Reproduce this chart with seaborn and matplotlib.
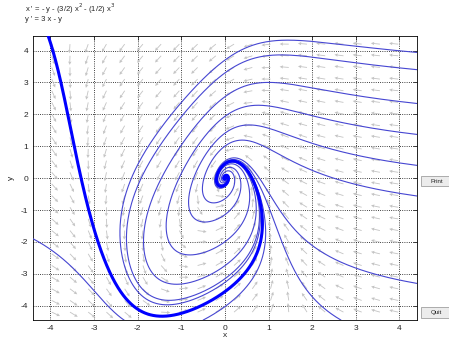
import numpy as np
import matplotlib
matplotlib.use('Agg')
import matplotlib.pyplot as plt
import seaborn as sns
from matplotlib.patches import Rectangle

# system shown in the title:
# x' = cx[0]*y + cx[1]*x^2 + cx[2]*x^3 ,  y' = cy[0]*x + cy[1]*y
cx = [-1.0, -1.5, -0.5]
cy = [3.0, -1.0]

# start points of the thin solution curves
start_x = [4.4, 4.4, 4.4, 4.4, 4.4, 4.4, 4.4, 2.66, -0.5, -4.4]
start_y = [3.94, 3.4, 2.34, 1.37, 0.4, -0.56, -3.3, -4.45, -4.45, -1.9]
# start of the thick curve
thick_x = -4.05
thick_y = 4.45

x_ticks = [-4, -3, -2, -1, 0, 1, 2, 3, 4]
y_ticks = [-4, -3, -2, -1, 0, 1, 2, 3, 4]
title_lines = ["x ' = - y - (3/2) x$^{2}$ - (1/2) x$^{3}$", "y ' = 3 x - y"]


def field(x, y):
    dx = cx[0] * y + cx[1] * x ** 2 + cx[2] * x ** 3
    dy = cy[0] * x + cy[1] * y
    return dx, dy


def solve(x0, y0, dt=0.002, nmax=40000):
    # plain rk4 until the curve leaves the window or reaches the origin
    xs = [x0]
    ys = [y0]
    x, y = x0, y0
    for i in range(nmax):
        k1 = field(x, y)
        k2 = field(x + dt / 2 * k1[0], y + dt / 2 * k1[1])
        k3 = field(x + dt / 2 * k2[0], y + dt / 2 * k2[1])
        k4 = field(x + dt * k3[0], y + dt * k3[1])
        x = x + dt / 6 * (k1[0] + 2 * k2[0] + 2 * k3[0] + k4[0])
        y = y + dt / 6 * (k1[1] + 2 * k2[1] + 2 * k3[1] + k4[1])
        xs.append(x)
        ys.append(y)
        if abs(x) > 4.7 or abs(y) > 4.7 or np.hypot(x, y) < 0.01:
            break
    return np.array(xs), np.array(ys)


sns.set_style('white')
plt.rcParams['font.family'] = ['Liberation Sans', 'DejaVu Sans']
plt.rcParams['axes.unicode_minus'] = False

fig = plt.figure(figsize=(4.49, 3.38), dpi=100)
ax = fig.add_axes([0.0735, 0.053, 0.855, 0.840])

# direction field, all arrows the same length on screen
gx, gy = np.meshgrid(np.linspace(-3.97, 3.97, 20), np.linspace(-4.2, 4.2, 24))
u, v = field(gx, gy)
u = u * 43.6
v = v * 31.9
n = np.hypot(u, v)
n[n == 0] = 1
ax.quiver(gx, gy, u / n, v / n, color='#c4c4c4', angles='uv', scale_units='dots',
          scale=0.11, width=0.0022, headwidth=4, headlength=4, headaxislength=3.5, zorder=1)

# solution curves
for x0, y0 in zip(start_x, start_y):
    xs, ys = solve(x0, y0)
    sns.lineplot(x=xs, y=ys, sort=False, estimator=None, color='#4646d2',
                 linewidth=0.8, ax=ax, zorder=3)
xs, ys = solve(thick_x, thick_y)
sns.lineplot(x=xs, y=ys, sort=False, estimator=None, color='#0000ff',
             linewidth=2.2, ax=ax, zorder=4)

ax.set_xlim(-4.4, 4.4)
ax.set_ylim(-4.45, 4.45)
ax.set_xticks(x_ticks)
ax.set_yticks(y_ticks)
ax.grid(True, linestyle=':', color='k', linewidth=0.6)
ax.tick_params(direction='in', top=True, right=True, length=3, labelsize=6, width=0.6)
for s in ax.spines.values():
    s.set_linewidth(0.6)
    s.set_color('k')
ax.set_xlabel('x', fontsize=6, labelpad=0)
ax.set_ylabel('y', fontsize=6, labelpad=4)

fig.text(0.056, 0.975, title_lines[0], fontsize=5.5, va='center')
fig.text(0.056, 0.942, title_lines[1], fontsize=5.5, va='center')

# the two buttons at the right
for label, y0, h in [('Print', 0.450, 0.028), ('Quit', 0.059, 0.032)]:
    fig.patches.append(Rectangle((0.938, y0), 0.08, h, transform=fig.transFigure,
                                 facecolor='#ececec', edgecolor='#a0a0a0', linewidth=0.6))
    fig.text(0.972, y0 + h / 2, label, fontsize=4.5, ha='center', va='center')

fig.savefig('out.png', dpi=100)
